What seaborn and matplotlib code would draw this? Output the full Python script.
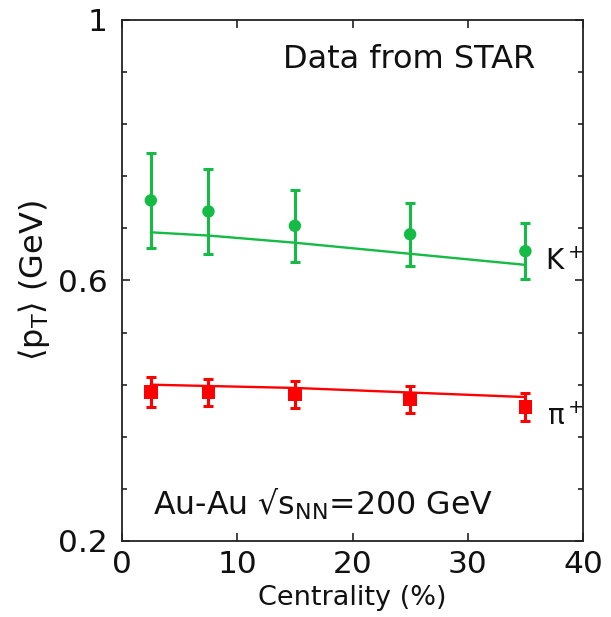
import numpy as np
import pandas as pd
import matplotlib
matplotlib.use("Agg")
import matplotlib.pyplot as plt
import seaborn as sns
from matplotlib.ticker import MultipleLocator, FixedLocator

# ---- data ----
centrality = [2.5, 7.5, 15, 25, 35]
kaon_mean = [0.723, 0.706, 0.684, 0.671, 0.645]
kaon_err = [0.073, 0.065, 0.055, 0.048, 0.043]
pion_mean = [0.429, 0.428, 0.425, 0.417, 0.406]
pion_err = [0.023, 0.021, 0.021, 0.021, 0.022]
kaon_model = [0.674, 0.669, 0.658, 0.641, 0.624]
pion_model = [0.440, 0.438, 0.435, 0.428, 0.421]

GREEN = "#14bb44"
RED = "#ff0000"
TXT = "#111111"

sns.set_theme(style="ticks")
plt.rcParams['font.family'] = ['DejaVu Sans']
plt.rcParams['mathtext.fontset'] = 'dejavusans'

fig = plt.figure(figsize=(6.11, 6.17), dpi=100)
ax = fig.add_axes([0.1997, 0.1232, 0.7545, 0.8444])

df_k = pd.DataFrame({"c": centrality, "m": kaon_mean, "e": kaon_err, "model": kaon_model})
df_p = pd.DataFrame({"c": centrality, "m": pion_mean, "e": pion_err, "model": pion_model})

# model lines
sns.lineplot(data=df_k, x="c", y="model", color=GREEN, lw=1.7, ax=ax, zorder=2)
sns.lineplot(data=df_p, x="c", y="model", color=RED, lw=1.7, ax=ax, zorder=2)

# error bars
ax.errorbar(df_k["c"], df_k["m"], yerr=df_k["e"], fmt="none", ecolor=GREEN,
            elinewidth=2.2, capsize=3.6, capthick=2.2, zorder=3)
ax.errorbar(df_p["c"], df_p["m"], yerr=df_p["e"], fmt="none", ecolor=RED,
            elinewidth=2.2, capsize=3.6, capthick=2.2, zorder=3)

# markers
sns.scatterplot(data=df_k, x="c", y="m", color=GREEN, marker="o", s=80,
                edgecolor="none", ax=ax, zorder=4)
sns.scatterplot(data=df_p, x="c", y="m", color=RED, marker="s", s=95,
                edgecolor="none", ax=ax, zorder=4)

ax.set_xlim(0, 40)
ax.set_ylim(0.2, 1.0)
ax.xaxis.set_major_locator(MultipleLocator(10))
ax.yaxis.set_major_locator(FixedLocator([0.2, 0.6, 1.0]))
ax.yaxis.set_minor_locator(FixedLocator([0.28, 0.36, 0.44, 0.52, 0.68, 0.76, 0.84, 0.92]))
ax.set_yticklabels(["0.2", "0.6", "1"])

ax.tick_params(which="both", direction="in", top=True, right=True, width=1.2,
               colors="#222222", labelcolor=TXT, labelsize=22.5)
ax.tick_params(which="major", length=6)
ax.tick_params(which="minor", length=3.5)
ax.tick_params(axis="x", pad=6.5)
ax.tick_params(axis="y", pad=10.5)
for sp in ax.spines.values():
    sp.set_linewidth(1.3)
    sp.set_color("#222222")

ax.set_xlabel("Centrality (%)", fontsize=19.5, labelpad=4, color=TXT)
ax.set_ylabel(r"$\langle\mathrm{p_T}\rangle$ (GeV)", fontsize=23, labelpad=4, color=TXT)

ax.text(0.349, 0.908, "Data from STAR", transform=ax.transAxes, fontsize=23,
        color=TXT, ha="left", va="baseline")
ax.text(0.067, 0.050, "Au-Au √s$_\\mathrm{NN}$=200 GeV", transform=ax.transAxes,
        fontsize=22.8, color=TXT, ha="left", va="baseline")
ax.text(36.7, 0.616, r"K$^+$", fontsize=20, color=TXT, ha="left", va="baseline")
ax.text(36.9, 0.378, r"$\mathrm{\pi}^+$", fontsize=20, color=TXT, ha="left", va="baseline")

fig.savefig("out.png", dpi=100)
